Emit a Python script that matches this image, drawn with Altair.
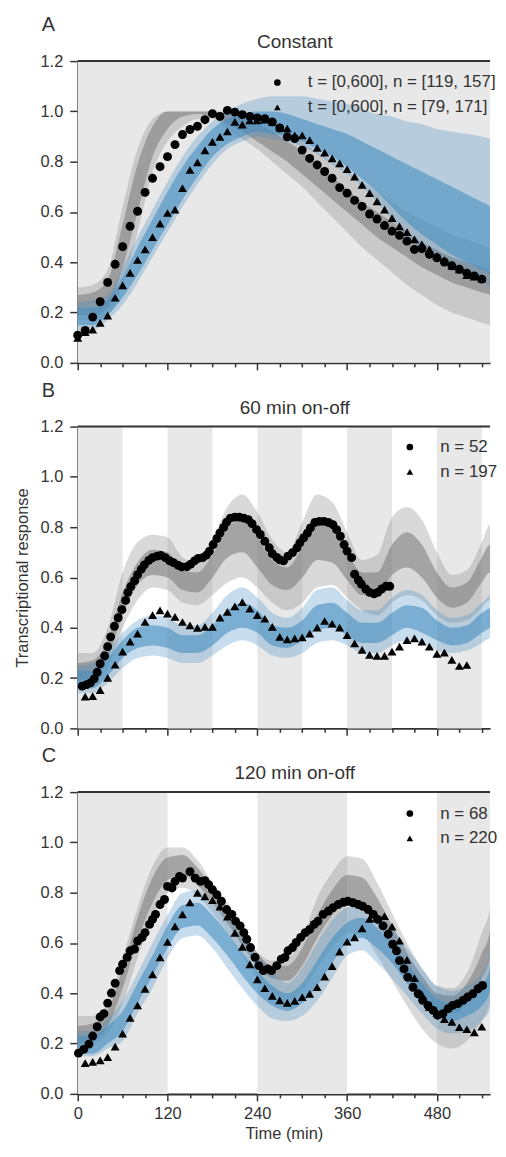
import altair as alt
import pandas as pd

FONT = "Liberation Sans"
TXT = "#333333"
GRAY = "#808080"
BLUE = "#4690c2"
SHADE = "#e8e8e8"
W = 414
H = 303
XMAX = 551

X_TICKS = [0, 30, 60, 90, 120, 150, 180, 210, 240, 270, 300, 330, 360, 390, 420, 450, 480, 510, 540]
Y_TICKS = [0.0, 0.2, 0.4, 0.6, 0.8, 1.0, 1.2]

# common sampling grid for the simulated ensembles (min)
T_GRID = [0, 20, 40, 60, 80, 100, 120, 140, 160, 180, 200, 220, 240, 260, 280,
          300, 320, 340, 360, 380, 400, 420, 440, 460, 480, 500, 520, 540, 560, 580]

# ---------------- Panel A : Constant ----------------
A_gray_lo = [0.17, 0.17, 0.19, 0.31, 0.52, 0.76, 0.88, 0.94, 0.97, 0.97, 0.93, 0.89, 0.85, 0.80, 0.75,
             0.70, 0.64, 0.58, 0.52, 0.46, 0.41, 0.36, 0.31, 0.27, 0.23, 0.20, 0.18, 0.16, 0.15, 0.15]
A_gray_hi = [0.30, 0.31, 0.37, 0.62, 0.85, 0.97, 1.00, 1.00, 1.00, 1.00, 1.00, 0.99, 0.97, 0.95, 0.92,
             0.88, 0.84, 0.80, 0.76, 0.72, 0.68, 0.64, 0.60, 0.57, 0.54, 0.51, 0.49, 0.47, 0.45, 0.44]
A_grayc_lo = [0.19, 0.19, 0.22, 0.38, 0.60, 0.82, 0.93, 0.98, 0.99, 0.98, 0.95, 0.92, 0.88, 0.84, 0.80,
              0.75, 0.70, 0.65, 0.60, 0.55, 0.50, 0.46, 0.42, 0.38, 0.35, 0.32, 0.30, 0.28, 0.27, 0.26]
A_grayc_hi = [0.27, 0.28, 0.33, 0.55, 0.79, 0.94, 1.00, 1.00, 1.00, 1.00, 0.99, 0.97, 0.95, 0.92, 0.88,
              0.84, 0.79, 0.74, 0.69, 0.64, 0.60, 0.56, 0.52, 0.48, 0.45, 0.42, 0.40, 0.38, 0.36, 0.35]
A_blue_lo = [0.13, 0.13, 0.17, 0.23, 0.32, 0.42, 0.52, 0.62, 0.71, 0.79, 0.85, 0.88, 0.90, 0.89, 0.88,
             0.86, 0.83, 0.79, 0.75, 0.70, 0.64, 0.57, 0.50, 0.45, 0.41, 0.37, 0.34, 0.32, 0.30, 0.29]
A_blue_hi = [0.24, 0.25, 0.27, 0.38, 0.50, 0.61, 0.72, 0.82, 0.90, 0.96, 1.00, 1.03, 1.05, 1.06, 1.06,
             1.06, 1.05, 1.04, 1.03, 1.01, 0.99, 0.98, 0.96, 0.95, 0.93, 0.92, 0.91, 0.90, 0.89, 0.88]
A_bluec_lo = [0.15, 0.15, 0.19, 0.26, 0.35, 0.45, 0.55, 0.65, 0.74, 0.82, 0.87, 0.90, 0.92, 0.91, 0.90,
              0.88, 0.85, 0.82, 0.78, 0.73, 0.68, 0.62, 0.56, 0.51, 0.47, 0.43, 0.40, 0.37, 0.35, 0.33]
A_bluec_hi = [0.22, 0.22, 0.25, 0.34, 0.46, 0.57, 0.68, 0.78, 0.86, 0.93, 0.97, 0.99, 1.00, 1.00, 0.99,
              0.97, 0.95, 0.93, 0.91, 0.88, 0.85, 0.82, 0.79, 0.76, 0.73, 0.70, 0.67, 0.64, 0.62, 0.60]

A_circ_t = [0, 10, 20, 30, 40, 50, 60, 70, 80, 90, 100, 110, 120, 130, 140, 150, 160, 170, 180, 190,
            200, 210, 220, 230, 240, 250, 260, 270, 280, 290, 300, 310, 320, 330, 340, 350, 360, 370,
            380, 390, 400, 410, 420, 430, 440, 450, 460, 470, 480, 490, 500, 510, 520, 530, 540, 550,
            560, 570]
A_circ_v = [0.110, 0.129, 0.182, 0.243, 0.320, 0.392, 0.462, 0.543, 0.603, 0.678, 0.734, 0.780, 0.820,
            0.868, 0.908, 0.928, 0.941, 0.967, 0.991, 0.980, 1.004, 0.997, 0.987, 0.980, 0.974, 0.971,
            0.958, 0.934, 0.899, 0.892, 0.846, 0.813, 0.787, 0.761, 0.734, 0.697, 0.675, 0.646, 0.622,
            0.592, 0.572, 0.546, 0.524, 0.507, 0.484, 0.451, 0.454, 0.432, 0.418, 0.401, 0.386, 0.372,
            0.357, 0.346, 0.333, 0.326, 0.320, 0.309]
A_tri_t = A_circ_t
A_tri_v = [0.099, 0.122, 0.132, 0.159, 0.188, 0.259, 0.308, 0.358, 0.409, 0.451, 0.500, 0.554, 0.596,
           0.609, 0.695, 0.767, 0.797, 0.845, 0.879, 0.899, 0.920, 0.958, 0.947, 0.964, 0.964, 0.967,
           0.958, 0.936, 0.932, 0.905, 0.905, 0.886, 0.855, 0.836, 0.813, 0.793, 0.770, 0.741, 0.708,
           0.675, 0.642, 0.609, 0.576, 0.543, 0.520, 0.491, 0.471, 0.451, 0.425, 0.409, 0.386, 0.372,
           0.349, 0.343, 0.336, 0.329, 0.320, 0.313]
A_labels = ["t = [0,600], n = [119, 157]", "t = [0,600], n = [79, 171]"]
A_shade_s = [0]
A_shade_e = [600]

# ---------------- Panel B : 60 min on-off ----------------
B_gray_lo = [0.17, 0.18, 0.24, 0.40, 0.51, 0.56, 0.55, 0.50, 0.49, 0.53, 0.58, 0.60, 0.56, 0.50, 0.47,
             0.50, 0.56, 0.57, 0.52, 0.47, 0.45, 0.50, 0.53, 0.51, 0.45, 0.42, 0.43, 0.48, 0.51, 0.50]
B_gray_hi = [0.30, 0.30, 0.40, 0.62, 0.74, 0.77, 0.76, 0.68, 0.66, 0.75, 0.88, 0.93, 0.86, 0.75, 0.70,
             0.82, 0.93, 0.90, 0.78, 0.67, 0.69, 0.84, 0.88, 0.83, 0.70, 0.61, 0.63, 0.74, 0.81, 0.80]
B_grayc_lo = [0.19, 0.20, 0.28, 0.45, 0.57, 0.61, 0.60, 0.55, 0.54, 0.60, 0.68, 0.70, 0.64, 0.57, 0.55,
              0.60, 0.67, 0.66, 0.59, 0.53, 0.53, 0.61, 0.64, 0.60, 0.52, 0.48, 0.50, 0.58, 0.62, 0.61]
B_grayc_hi = [0.26, 0.27, 0.35, 0.54, 0.66, 0.71, 0.70, 0.63, 0.62, 0.69, 0.80, 0.83, 0.76, 0.67, 0.64,
              0.72, 0.81, 0.80, 0.70, 0.62, 0.62, 0.73, 0.78, 0.73, 0.62, 0.56, 0.58, 0.68, 0.73, 0.72]
B_blue_lo = [0.14, 0.14, 0.18, 0.24, 0.28, 0.29, 0.28, 0.26, 0.26, 0.29, 0.33, 0.35, 0.33, 0.29, 0.28,
             0.30, 0.34, 0.35, 0.33, 0.30, 0.30, 0.33, 0.35, 0.34, 0.31, 0.30, 0.31, 0.34, 0.36, 0.36]
B_blue_hi = [0.25, 0.26, 0.31, 0.38, 0.43, 0.45, 0.44, 0.41, 0.41, 0.46, 0.53, 0.56, 0.52, 0.46, 0.44,
             0.48, 0.55, 0.56, 0.51, 0.47, 0.47, 0.52, 0.55, 0.53, 0.47, 0.44, 0.45, 0.50, 0.53, 0.53]
B_bluec_lo = [0.16, 0.16, 0.21, 0.28, 0.32, 0.33, 0.32, 0.30, 0.30, 0.33, 0.38, 0.40, 0.38, 0.33, 0.32,
              0.35, 0.39, 0.40, 0.37, 0.34, 0.34, 0.37, 0.40, 0.38, 0.35, 0.33, 0.34, 0.38, 0.40, 0.40]
B_bluec_hi = [0.23, 0.23, 0.28, 0.35, 0.40, 0.41, 0.40, 0.37, 0.37, 0.41, 0.47, 0.50, 0.47, 0.41, 0.40,
              0.43, 0.49, 0.50, 0.46, 0.42, 0.42, 0.46, 0.49, 0.48, 0.43, 0.40, 0.41, 0.46, 0.48, 0.48]

B_circ_t = [6, 12, 17, 22, 26, 30, 36, 40, 44, 49, 54, 59, 64, 67, 71, 76, 80, 85, 89, 95, 100, 106,
            111, 117, 123, 128, 134, 139, 146, 151, 156, 161, 167, 172, 176, 181, 186, 190, 195, 199,
            204, 210, 216, 222, 228, 233, 239, 244, 250, 256, 260, 266, 270, 275, 281, 287, 293, 297,
            302, 307, 311, 317, 323, 329, 335, 341, 346, 351, 356, 360, 366, 370, 375, 379, 385, 390,
            396, 401, 406, 412, 417]
B_circ_v = [0.168, 0.174, 0.181, 0.197, 0.223, 0.257, 0.288, 0.325, 0.364, 0.406, 0.440, 0.472, 0.509,
            0.541, 0.564, 0.587, 0.611, 0.633, 0.650, 0.668, 0.679, 0.685, 0.688, 0.679, 0.666, 0.659,
            0.649, 0.642, 0.643, 0.653, 0.666, 0.676, 0.679, 0.689, 0.705, 0.731, 0.755, 0.777, 0.799,
            0.820, 0.836, 0.840, 0.840, 0.836, 0.830, 0.814, 0.790, 0.771, 0.744, 0.718, 0.695, 0.680,
            0.670, 0.666, 0.685, 0.699, 0.718, 0.738, 0.758, 0.777, 0.797, 0.819, 0.823, 0.823, 0.819,
            0.810, 0.790, 0.764, 0.731, 0.705, 0.679, 0.613, 0.590, 0.574, 0.554, 0.541, 0.535, 0.541,
            0.554, 0.565, 0.565]
B_tri_t = [10, 20, 30, 40, 50, 60, 70, 80, 90, 100, 110, 120, 130, 140, 150, 160, 170, 180, 190, 200,
           210, 220, 230, 240, 250, 260, 270, 280, 290, 300, 310, 320, 330, 340, 350, 360, 370, 380,
           390, 400, 410, 420, 430, 440, 450, 460, 470, 480, 490, 500, 510, 520]
B_tri_v = [0.126, 0.128, 0.152, 0.201, 0.253, 0.305, 0.345, 0.377, 0.423, 0.450, 0.469, 0.456, 0.443,
           0.423, 0.410, 0.400, 0.404, 0.404, 0.440, 0.463, 0.485, 0.502, 0.476, 0.450, 0.436, 0.404,
           0.364, 0.354, 0.358, 0.362, 0.377, 0.401, 0.427, 0.416, 0.401, 0.371, 0.338, 0.312, 0.292,
           0.288, 0.288, 0.305, 0.325, 0.351, 0.358, 0.345, 0.325, 0.296, 0.301, 0.272, 0.248, 0.252]
B_labels = ["n = 52", "n = 197"]
B_shade_s = [0, 120, 240, 360, 480]
B_shade_e = [60, 180, 300, 420, 540]

# ---------------- Panel C : 120 min on-off ----------------
C_gray_lo = [0.19, 0.20, 0.24, 0.36, 0.54, 0.70, 0.80, 0.82, 0.79, 0.72, 0.64, 0.55, 0.46, 0.40, 0.37,
             0.41, 0.50, 0.58, 0.64, 0.63, 0.55, 0.45, 0.35, 0.26, 0.20, 0.18, 0.21, 0.29, 0.37, 0.43]
C_gray_hi = [0.31, 0.31, 0.36, 0.54, 0.74, 0.905, 0.98, 0.98, 0.93, 0.84, 0.76, 0.665, 0.565, 0.53, 0.54,
             0.62, 0.78, 0.88, 0.945, 0.935, 0.84, 0.72, 0.60, 0.50, 0.43, 0.42, 0.48, 0.64, 0.74, 0.82]
C_grayc_lo = [0.20, 0.21, 0.27, 0.42, 0.61, 0.76, 0.85, 0.87, 0.83, 0.76, 0.68, 0.59, 0.51, 0.46, 0.45,
              0.51, 0.62, 0.71, 0.77, 0.76, 0.68, 0.58, 0.48, 0.39, 0.33, 0.32, 0.36, 0.46, 0.55, 0.61]
C_grayc_hi = [0.27, 0.28, 0.33, 0.50, 0.70, 0.86, 0.94, 0.95, 0.90, 0.82, 0.74, 0.65, 0.56, 0.51, 0.51,
              0.58, 0.71, 0.81, 0.87, 0.86, 0.78, 0.67, 0.56, 0.47, 0.40, 0.39, 0.44, 0.56, 0.65, 0.71]
C_blue_lo = [0.15, 0.15, 0.18, 0.21, 0.32, 0.42, 0.54, 0.62, 0.63, 0.58, 0.50, 0.42, 0.35, 0.30, 0.29,
             0.31, 0.37, 0.46, 0.55, 0.57, 0.52, 0.46, 0.39, 0.32, 0.26, 0.24, 0.25, 0.29, 0.34, 0.38]
C_blue_hi = [0.25, 0.25, 0.30, 0.37, 0.48, 0.60, 0.71, 0.80, 0.81, 0.76, 0.70, 0.62, 0.55, 0.49, 0.44,
             0.50, 0.60, 0.69, 0.74, 0.75, 0.71, 0.66, 0.58, 0.50, 0.43, 0.41, 0.43, 0.48, 0.56, 0.62]
C_bluec_lo = [0.16, 0.16, 0.20, 0.25, 0.36, 0.47, 0.58, 0.66, 0.67, 0.62, 0.55, 0.47, 0.40, 0.35, 0.33,
              0.36, 0.43, 0.52, 0.60, 0.62, 0.58, 0.52, 0.44, 0.37, 0.31, 0.29, 0.31, 0.35, 0.41, 0.45]
C_bluec_hi = [0.23, 0.23, 0.27, 0.33, 0.44, 0.55, 0.67, 0.75, 0.76, 0.71, 0.64, 0.56, 0.49, 0.43, 0.40,
              0.44, 0.53, 0.62, 0.68, 0.70, 0.66, 0.60, 0.52, 0.44, 0.38, 0.36, 0.38, 0.43, 0.50, 0.55]

C_circ_t = [1, 8, 15, 20, 26, 30, 35, 40, 45, 50, 56, 60, 66, 70, 76, 80, 86, 90, 96, 100, 104, 110,
            116, 120, 126, 130, 136, 140, 150, 157, 164, 170, 175, 180, 186, 192, 199, 206, 211, 217,
            222, 226, 231, 237, 242, 248, 254, 259, 266, 272, 277, 281, 287, 292, 298, 304, 310, 316,
            321, 328, 335, 341, 348, 355, 361, 368, 375, 381, 388, 395, 401, 408, 415, 421, 426, 430,
            436, 441, 448, 455, 461, 468, 475, 481, 488, 495, 501, 508, 515, 521, 528, 535, 541, 548,
            555, 561, 569]
C_circ_v = [0.162, 0.177, 0.198, 0.230, 0.267, 0.306, 0.319, 0.361, 0.401, 0.440, 0.490, 0.516, 0.543,
            0.569, 0.576, 0.608, 0.622, 0.641, 0.674, 0.694, 0.714, 0.753, 0.773, 0.825, 0.819, 0.845,
            0.865, 0.858, 0.884, 0.858, 0.845, 0.848, 0.832, 0.812, 0.792, 0.766, 0.733, 0.714, 0.687,
            0.668, 0.641, 0.615, 0.582, 0.543, 0.510, 0.490, 0.497, 0.490, 0.510, 0.536, 0.543, 0.569,
            0.582, 0.602, 0.622, 0.641, 0.654, 0.674, 0.687, 0.714, 0.727, 0.740, 0.753, 0.762, 0.766,
            0.760, 0.753, 0.746, 0.733, 0.714, 0.694, 0.668, 0.635, 0.595, 0.569, 0.530, 0.497, 0.464,
            0.424, 0.398, 0.372, 0.352, 0.332, 0.313, 0.319, 0.339, 0.352, 0.359, 0.372, 0.385, 0.398,
            0.418, 0.431, 0.451, 0.464, 0.477, 0.490]
C_tri_t = [10, 20, 30, 40, 50, 60, 70, 80, 90, 100, 110, 120, 130, 140, 150, 160, 170, 180, 190, 200,
           210, 220, 230, 240, 250, 260, 270, 280, 290, 300, 310, 320, 330, 340, 350, 360, 370, 380,
           390, 400, 410, 420, 430, 440, 450, 460, 470, 480, 490, 500, 510, 520, 530, 540, 550, 560, 570]
C_tri_v = [0.122, 0.127, 0.133, 0.146, 0.188, 0.240, 0.302, 0.352, 0.418, 0.475, 0.543, 0.604, 0.666,
           0.714, 0.761, 0.799, 0.785, 0.770, 0.745, 0.705, 0.640, 0.585, 0.515, 0.455, 0.420, 0.390,
           0.372, 0.362, 0.370, 0.385, 0.398, 0.424, 0.466, 0.508, 0.566, 0.605, 0.622, 0.658, 0.696,
           0.700, 0.707, 0.665, 0.609, 0.533, 0.460, 0.395, 0.345, 0.322, 0.297, 0.286, 0.265, 0.257,
           0.245, 0.267, 0.286, 0.315, 0.350]
C_labels = ["n = 68", "n = 220"]
C_shade_s = [0, 240, 480]
C_shade_e = [120, 360, 600]


def make_panel(letter, title, shade_s, shade_e, env, circ_t, circ_v, tri_t, tri_v,
               labels, leg_x, leg_y, x_labels, y_title):
    xs = alt.Scale(domain=[0, XMAX], nice=False, zero=False, clamp=True)
    ys = alt.Scale(domain=[0, 1.2], nice=False, zero=False)
    x_kw = dict(values=X_TICKS, grid=False, domainColor=TXT, domainWidth=2, tickColor=TXT,
                tickWidth=1.5,
                tickSize={"condition": {"test": "datum.value % 120 === 0", "value": 7}, "value": 4},
                labelFont=FONT, labelFontSize=16.5, labelColor=TXT, labelPadding=5,
                labelFlush=False, labelOverlap=False,
                titleFont=FONT, titleFontSize=16.5, titleFontWeight="normal", titleColor=TXT,
                titlePadding=3)
    if x_labels:
        x_axis = alt.Axis(title="Time (min)", labels=True,
                          labelExpr="datum.value % 120 === 0 ? datum.label : ''", **x_kw)
    else:
        x_axis = alt.Axis(title=None, labels=False, **x_kw)
    y_axis = alt.Axis(values=Y_TICKS, format=".1f", title=y_title, grid=False, tickSize=8,
                      tickWidth=1.5, tickColor=TXT, domainColor=TXT, domainWidth=2,
                      labelFont=FONT, labelFontSize=16.5, labelColor=TXT, labelPadding=7,
                      labelFlush=False, titleFont=FONT, titleFontSize=16.5,
                      titleFontWeight="normal", titleColor=TXT, titlePadding=9)

    X = lambda f: alt.X(f, scale=xs, axis=x_axis)
    Y = lambda f: alt.Y(f, scale=ys, axis=y_axis)

    shade = alt.Chart(pd.DataFrame({"s": shade_s, "e": shade_e})).mark_rect(
        color=SHADE).encode(x=X("s:Q"), x2="e:Q", y=alt.value(0), y2=alt.value(H))

    env_df = pd.DataFrame(env)
    base = alt.Chart(env_df)
    g_out = base.mark_area(color=GRAY, opacity=0.3, interpolate="monotone").encode(
        x=X("t:Q"), y=Y("glo:Q"), y2="ghi:Q")
    g_core = base.mark_area(color=GRAY, opacity=0.6, interpolate="monotone").encode(
        x=X("t:Q"), y=Y("gclo:Q"), y2="gchi:Q")
    b_out = base.mark_area(color=BLUE, opacity=0.3, interpolate="monotone").encode(
        x=X("t:Q"), y=Y("blo:Q"), y2="bhi:Q")
    b_core = base.mark_area(color=BLUE, opacity=0.6, interpolate="monotone").encode(
        x=X("t:Q"), y=Y("bclo:Q"), y2="bchi:Q")

    pts_df = pd.DataFrame({
        "t": list(circ_t) + list(tri_t),
        "v": list(circ_v) + list(tri_v),
        "s": [labels[0]] * len(circ_t) + [labels[1]] * len(tri_t),
    })
    pts = alt.Chart(pts_df).transform_filter(alt.datum.t <= XMAX - 5).mark_point(
        filled=True, opacity=1, size=80, color="black").encode(
        x=X("t:Q"), y=Y("v:Q"),
        shape=alt.Shape("s:N", scale=alt.Scale(domain=labels, range=["circle", "triangle-up"]),
                        legend=alt.Legend(title=None, orient="none", legendX=leg_x, legendY=leg_y,
                                          labelFont=FONT, labelFontSize=17, labelColor=TXT,
                                          labelLimit=400,
                                          symbolSize=45, symbolFillColor="black",
                                          symbolStrokeColor="black", symbolStrokeWidth=0,
                                          labelOffset=22, rowPadding=7, padding=0)))

    top = alt.Chart(pd.DataFrame({"z": [0]})).mark_rule(color=TXT, strokeWidth=2).encode(
        y=alt.value(0))
    let = alt.Chart(pd.DataFrame({"txt": [letter]})).mark_text(
        font=FONT, fontSize=20, color=TXT, align="left", baseline="alphabetic").encode(
        x=alt.value(-36), y=alt.value(-30), text="txt:N")
    ttl = alt.Chart(pd.DataFrame({"txt": [title]})).mark_text(
        font=FONT, fontSize=19, color=TXT, align="center", baseline="alphabetic").encode(
        x=alt.value(218), y=alt.value(-13), text="txt:N")

    return alt.layer(shade, g_out, g_core, b_out, b_core, pts, top, let, ttl).properties(
        width=W, height=H)


def env_dict(glo, ghi, gclo, gchi, blo, bhi, bclo, bchi):
    return {"t": T_GRID, "glo": glo, "ghi": ghi, "gclo": gclo, "gchi": gchi,
            "blo": blo, "bhi": bhi, "bclo": bclo, "bchi": bchi}


pA = make_panel("A", "Constant", A_shade_s, A_shade_e,
                env_dict(A_gray_lo, A_gray_hi, A_grayc_lo, A_grayc_hi,
                         A_blue_lo, A_blue_hi, A_bluec_lo, A_bluec_hi),
                A_circ_t, A_circ_v, A_tri_t, A_tri_v, A_labels, 192, 13, False, None)
pB = make_panel("B", "60 min on-off", B_shade_s, B_shade_e,
                env_dict(B_gray_lo, B_gray_hi, B_grayc_lo, B_grayc_hi,
                         B_blue_lo, B_blue_hi, B_bluec_lo, B_bluec_hi),
                B_circ_t, B_circ_v, B_tri_t, B_tri_v, B_labels, 325, 12, False,
                "Transcriptional response")
pC = make_panel("C", "120 min on-off", C_shade_s, C_shade_e,
                env_dict(C_gray_lo, C_gray_hi, C_grayc_lo, C_grayc_hi,
                         C_blue_lo, C_blue_hi, C_bluec_lo, C_bluec_hi),
                C_circ_t, C_circ_v, C_tri_t, C_tri_v, C_labels, 325, 13, True, None)

chart = alt.vconcat(pA, pB, pC, spacing=64, bounds="flush").resolve_scale(
    shape="independent").configure_view(stroke=None).properties(
    padding={"left": 7, "top": 5, "right": 0, "bottom": 0})

chart.save("out.html", embed_options={"renderer": "svg", "actions": False})
